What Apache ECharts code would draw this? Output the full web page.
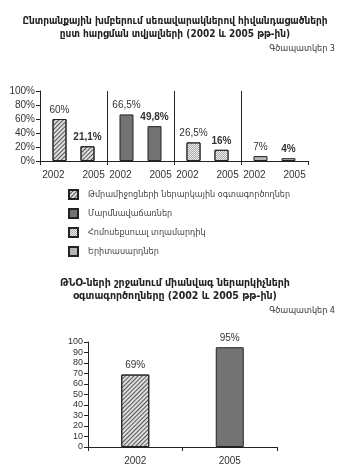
<!DOCTYPE html>
<html>
<head>
<meta charset="utf-8">
<script src="https://cdn.jsdelivr.net/npm/echarts@6/dist/echarts.min.js"></script>
<style>
  html, body { margin: 0; padding: 0; background: #fff; }
  #chart { width: 350px; height: 473px; }
</style>
</head>
<body>
<div id="chart"></div>
<script>
// Chart 3 data
var groups = ['Թմրամիջոցների ներարկային օգտագործողներ', 'Մարմնավաճառներ', 'Հոմոսեքսուալ տղամարդիկ', 'Երիտասարդներ'];
var years = ['2002', '2005'];
var values2002 = [60, 66.5, 26.5, 7];
var values2005 = [21.1, 49.8, 16, 4];
var pctTicks = [0, 20, 40, 60, 80, 100];

// Chart 4 data
var years2 = ['2002', '2005'];
var values2 = [69, 95];

var FONT = "'Liberation Sans', 'DejaVu Sans Condensed', 'DejaVu Sans', sans-serif";
var ARM = "'DejaVu Sans Condensed', 'DejaVu Sans', sans-serif";

// fill styles for each group
var groupStyles = [
    { color: '#dedede', borderColor: '#222', borderWidth: 1,
      decal: { symbol: 'rect', color: '#555', dashArrayX: [1, 0], dashArrayY: [1, 2], rotation: -Math.PI / 4 } },
    { color: '#737373', borderColor: '#222', borderWidth: 1 },
    { color: '#ededed', borderColor: '#222', borderWidth: 1,
      decal: { symbol: 'rect', color: '#aaa', dashArrayX: [[1, 1], [0, 1, 1, 0]], dashArrayY: [1, 0] } },
    { color: '#b5b5b5', borderColor: '#222', borderWidth: 1 }
];

function pct(p) {
    return String(p.value).replace('.', ',') + '%';
}

function titleLine(text, top, size) {
    return {
        text: text,
        left: 'center',
        top: top,
        padding: 0,
        textStyle: { fontFamily: ARM, fontSize: size, fontWeight: 'bold', color: '#222' }
    };
}

function figLabel(text, top) {
    return {
        text: text,
        right: 15,
        top: top,
        padding: 0,
        textStyle: { fontFamily: ARM, fontSize: 9, fontWeight: 'normal', color: '#333' }
    };
}

var series = [];
groups.forEach(function (g, i) {
    [values2002, values2005].forEach(function (vals, k) {
        series.push({
            name: g,
            type: 'bar',
            stack: 'y' + k,
            xAxisIndex: 0,
            yAxisIndex: 0,
            barWidth: 14,
            barGap: '100%',
            itemStyle: groupStyles[i],
            label: {
                show: true,
                position: 'top',
                distance: 4,
                formatter: pct,
                fontFamily: FONT,
                fontSize: 10,
                fontWeight: k === 1 ? 'bold' : 'normal',
                color: '#333'
            },
            data: groups.map(function (_, j) { return j === i ? vals[i] : null; })
        });
    });
});

series.push({
    name: 'chart4',
    type: 'bar',
    xAxisIndex: 1,
    yAxisIndex: 1,
    barWidth: 28,
    label: {
        show: true,
        position: 'top',
        distance: 4,
        formatter: '{c}%',
        fontFamily: FONT,
        fontSize: 10,
        color: '#333'
    },
    data: values2.map(function (v, i) {
        return { value: v, itemStyle: groupStyles[i] };
    })
});

var chart = echarts.init(document.getElementById('chart'));

var option = {
    backgroundColor: '#fff',
    animation: false,
    title: [
        titleLine('Ընտրանքային խմբերում սեռավարակներով հիվանդացածների', 16, 10),
        titleLine('ըստ հարցման տվյալների (2002 և 2005 թթ-ին)', 29, 10),
        figLabel('Գծապատկեր 3', 44),
        titleLine('ԹՆՕ-ների շրջանում միանվագ ներարկիչների', 278, 10.5),
        titleLine('օգտագործողները (2002 և 2005 թթ-ին)', 291, 10.5),
        figLabel('Գծապատկեր 4', 306)
    ],
    legend: {
        data: groups,
        orient: 'vertical',
        left: 68,
        top: 189,
        padding: 0,
        icon: 'rect',
        itemWidth: 9,
        itemHeight: 9,
        itemGap: 8,
        textStyle: { fontFamily: ARM, fontSize: 9, color: '#444', padding: [0, 0, 0, 5] }
    },
    grid: [
        { left: 40, top: 91, width: 268, height: 70 },
        { left: 88, top: 342, width: 189, height: 105 }
    ],
    xAxis: [
        {
            type: 'category',
            gridIndex: 0,
            data: groups,
            axisLine: { lineStyle: { color: '#222' } },
            axisTick: { show: true, length: 4, lineStyle: { color: '#222' } },
            splitLine: { show: true, showMinLine: false, showMaxLine: false, lineStyle: { color: '#222', width: 1 } },
            axisLabel: {
                interval: 0,
                margin: 8,
                formatter: function () {
                    return years.map(function (y) { return '{y|' + y + '}'; }).join('{g|}');
                },
                rich: {
                    y: { fontFamily: FONT, fontSize: 10, color: '#333' },
                    g: { width: 18 }
                }
            }
        },
        {
            type: 'category',
            gridIndex: 1,
            data: years2,
            axisLine: { lineStyle: { color: '#222' } },
            axisTick: { show: true, length: 4, lineStyle: { color: '#222' } },
            axisLabel: { interval: 0, margin: 9, fontFamily: FONT, fontSize: 10, color: '#333' }
        }
    ],
    yAxis: [
        {
            type: 'value',
            gridIndex: 0,
            min: pctTicks[0],
            max: pctTicks[pctTicks.length - 1],
            interval: 20,
            axisLine: { show: true, lineStyle: { color: '#222' } },
            axisTick: { show: true, length: 4, lineStyle: { color: '#222' } },
            splitLine: { show: false },
            axisLabel: { formatter: '{value}%', margin: 5, fontFamily: FONT, fontSize: 10, color: '#333' }
        },
        {
            type: 'value',
            gridIndex: 1,
            min: 0,
            max: 100,
            interval: 10,
            axisLine: { show: true, lineStyle: { color: '#222' } },
            axisTick: { show: true, length: 4, lineStyle: { color: '#222' } },
            splitLine: { show: false },
            axisLabel: { margin: 5, fontFamily: FONT, fontSize: 9, color: '#333' }
        }
    ],
    series: series
};

chart.setOption(option);
</script>
</body>
</html>
